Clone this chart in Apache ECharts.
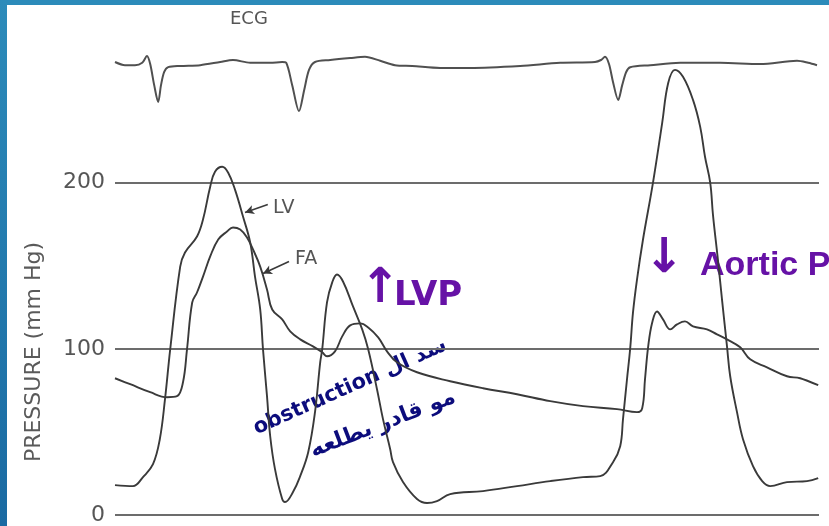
<!DOCTYPE html>
<html>
<head>
<meta charset="utf-8">
<script src="https://cdn.jsdelivr.net/npm/echarts@6/dist/echarts.min.js"></script>
<style>
  html, body { margin: 0; padding: 0; background: #ffffff; }
  #chart { width: 829px; height: 526px; }
</style>
</head>
<body>
<div id="chart"></div>
<script>
// Pressure axis ticks (mm Hg)
const pressureTicks = [0, 100, 200];

// Left ventricular pressure: time (ms) and pressure (mm Hg)
const lvTime = [0, 45, 70, 95, 112, 125, 138, 163, 175, 205, 220, 238, 250, 268, 283, 300, 320, 338, 350, 363, 370, 380, 388, 400, 418, 425, 445, 463, 483, 500, 513, 518, 530, 543, 555, 570, 595, 618, 633, 655, 670, 688, 695, 720, 755, 780, 805, 838, 920, 1005, 1088, 1170, 1213, 1245, 1263, 1270, 1280, 1288, 1295, 1305, 1320, 1345, 1368, 1383, 1400, 1420, 1445, 1463, 1475, 1488, 1495, 1508, 1518, 1530, 1538, 1555, 1570, 1595, 1618, 1638, 1680, 1730, 1758];
const lvPressure = [18, 17.4, 22.8, 30.6, 45.6, 69.7, 99.7, 149.5, 158, 167.6, 177.8, 197.6, 206.6, 209.6, 206, 195.8, 179.6, 164, 143.5, 123.7, 99.7, 71.5, 47.4, 27.6, 9.6, 7.8, 13.8, 23.4, 37.8, 61.9, 91.9, 99.7, 127.9, 140, 144.7, 140.5, 125.5, 111.7, 99.7, 75.7, 57.7, 39.6, 31.8, 19.8, 9.6, 7.2, 8.4, 12.6, 14.4, 17.4, 20.4, 22.8, 23.4, 31.8, 41.4, 57.7, 81.7, 100.3, 121.9, 141.7, 165.8, 200, 236, 260, 267.9, 263.7, 249.8, 233.6, 215.6, 200, 180.5, 152, 128.6, 101.5, 83.5, 61.9, 45.6, 29.4, 20.4, 17.4, 19.8, 20.4, 22.2];

// Femoral artery pressure: time (ms) and pressure (mm Hg)
const faTime = [0, 38, 88, 130, 155, 170, 180, 193, 205, 220, 238, 258, 280, 295, 313, 330, 345, 363, 380, 393, 418, 438, 463, 495, 518, 530, 550, 568, 588, 613, 633, 658, 680, 705, 755, 838, 920, 1005, 1088, 1170, 1255, 1305, 1318, 1325, 1333, 1343, 1355, 1370, 1388, 1405, 1425, 1445, 1480, 1505, 1530, 1563, 1588, 1630, 1680, 1713, 1758];
const faPressure = [82.3, 78.7, 73.9, 70.9, 71.5, 79.9, 99.7, 127.9, 133.9, 143.5, 155.6, 165.8, 170.6, 173, 171.8, 167, 159.8, 149.5, 135.7, 123.7, 117.7, 110.5, 105.7, 101.5, 97.9, 95.5, 98.5, 107.5, 114.1, 115.3, 112.9, 106.9, 98.5, 91.9, 85.9, 80.5, 76.3, 72.7, 68.5, 65.5, 63.7, 61.9, 64.3, 81.7, 101.5, 115.9, 122.5, 117.7, 111.7, 114.7, 116.5, 113.5, 111.7, 108.7, 105.7, 100.9, 93.7, 88.9, 83.5, 82.3, 78.1];

// ECG: time (ms) and voltage (mV)
const ecgTime = [0, 25, 50, 68, 80, 88, 98, 108, 115, 123, 133, 163, 213, 263, 295, 338, 388, 418, 428, 443, 460, 473, 485, 500, 538, 588, 625, 663, 700, 743, 813, 888, 1013, 1113, 1200, 1215, 1225, 1235, 1245, 1258, 1268, 1278, 1288, 1338, 1413, 1513, 1613, 1705, 1733, 1755];
const ecgMv = [0.05, -0.03, -0.03, 0.03, 0.2, 0, -0.53, -0.95, -0.53, -0.2, -0.08, -0.05, -0.03, 0.05, 0.1, 0.03, 0.03, 0.05, 0.03, -0.53, -1.18, -0.65, -0.15, 0.05, 0.1, 0.15, 0.18, 0.08, -0.03, -0.05, -0.1, -0.1, -0.05, 0.03, 0.05, 0.1, 0.18, 0, -0.45, -0.9, -0.53, -0.2, -0.08, -0.03, 0.03, 0.03, 0, 0.08, 0.03, -0.03];

const zip = (xs, ys) => xs.map((x, i) => [x, ys[i]]);

const traceColor = '#3a3a3a';
const gridColor = '#6c6c6c';
const inkPurple = '#6612a6';
const inkNavy = '#0c0c7c';

const chart = echarts.init(document.getElementById('chart'), null, { renderer: 'canvas' });

// short leader line with an arrowhead touching the trace
const pointer = (from, to) => ({
  silent: true, animation: false,
  symbol: ['arrow', 'none'], symbolSize: [7, 9],
  lineStyle: { color: traceColor, width: 1.6, type: 'solid' },
  label: { show: false },
  data: [[{ coord: from }, { coord: to }]]
});

const option = {
  animation: false,
  backgroundColor: '#ffffff',
  grid: { left: 115, right: 10, top: 16.5, bottom: 10, containLabel: false },
  xAxis: {
    type: 'value', min: 0, max: 1760, show: false
  },
  yAxis: [
    {
      type: 'value', min: 0, max: 300, interval: 100,
      axisLine: { show: false },
      axisTick: { show: false },
      splitLine: {
        show: true, showMaxLine: false,
        lineStyle: { color: gridColor, width: 2 }
      },
      axisLabel: {
        showMaxLabel: false,
        margin: 10,
        color: '#565656',
        fontFamily: 'DejaVu Sans',
        fontSize: 22,
        formatter: v => (pressureTicks.includes(v) ? String(v) : '')
      }
    },
    {
      type: 'value', min: -11.3, max: 1.19, show: false
    }
  ],
  series: [
    {
      name: 'ECG', type: 'line', yAxisIndex: 1,
      data: zip(ecgTime, ecgMv),
      showSymbol: false, smooth: 0.3,
      lineStyle: { color: '#505050', width: 2 }
    },
    {
      name: 'FA', type: 'line', yAxisIndex: 0,
      data: zip(faTime, faPressure),
      showSymbol: false, smooth: 0.4,
      lineStyle: { color: traceColor, width: 1.9 },
      markLine: pointer([370, 145.3], [435, 152.6])
    },
    {
      name: 'LV', type: 'line', yAxisIndex: 0,
      data: zip(lvTime, lvPressure),
      showSymbol: false, smooth: 0.4,
      lineStyle: { color: traceColor, width: 1.9 },
      markLine: pointer([325, 182], [382, 186.8])
    }
  ],
  graphic: [
    // slide frame
    { type: 'rect', left: 0, top: 0, shape: { width: 829, height: 5 }, style: { fill: '#2c8bba' }, silent: true },
    {
      type: 'rect', left: 0, top: 0, shape: { width: 7, height: 526 }, silent: true,
      style: { fill: new echarts.graphic.LinearGradient(0, 0, 0, 1, [{ offset: 0, color: '#2c8bba' }, { offset: 1, color: '#1a6aa2' }]) }
    },
    { type: 'text', left: 230, top: 10, style: { text: 'ECG', fill: '#555', font: '18px "DejaVu Sans"' }, silent: true },
    {
      type: 'text', x: 34, y: 352, rotation: Math.PI / 2, silent: true,
      style: { text: 'PRESSURE (mm Hg)', fill: '#5a5a5a', font: '22px "DejaVu Sans"', align: 'center', verticalAlign: 'middle' }
    },
    // trace names
    { type: 'text', x: 273, y: 208, silent: true, style: { text: 'LV', fill: '#555', font: '19px "DejaVu Sans"', align: 'left', verticalAlign: 'middle' } },
    { type: 'text', x: 295, y: 259, silent: true, style: { text: 'FA', fill: '#555', font: '19px "DejaVu Sans"', align: 'left', verticalAlign: 'middle' } },
    // handwritten notes
    { type: 'text', x: 380, y: 290, silent: true, style: { text: '↑', fill: inkPurple, font: 'bold 48px "DejaVu Sans"', align: 'center', verticalAlign: 'middle' } },
    { type: 'text', x: 394, y: 296, silent: true, style: { text: 'LVP', fill: inkPurple, font: 'bold 34px "DejaVu Sans"', align: 'left', verticalAlign: 'middle' } },
    { type: 'text', x: 664, y: 260, silent: true, style: { text: '↓', fill: inkPurple, font: 'bold 48px "DejaVu Sans"', align: 'center', verticalAlign: 'middle' } },
    { type: 'text', x: 700, y: 266, silent: true, style: { text: 'Aortic P', fill: inkPurple, font: 'bold 34px "Liberation Sans"', align: 'left', verticalAlign: 'middle' } },
    {
      type: 'text', x: 350, y: 387, rotation: 24 * Math.PI / 180, silent: true,
      style: { text: 'obstruction سد ال', fill: inkNavy, font: 'bold 21px "DejaVu Sans"', align: 'center', verticalAlign: 'middle' }
    },
    {
      type: 'text', x: 383, y: 424, rotation: 21 * Math.PI / 180, silent: true,
      style: { text: 'مو قادر يطلعه', fill: inkNavy, font: 'bold 22px "DejaVu Sans"', align: 'center', verticalAlign: 'middle' }
    }
  ]
};

chart.setOption(option);
</script>
</body>
</html>
